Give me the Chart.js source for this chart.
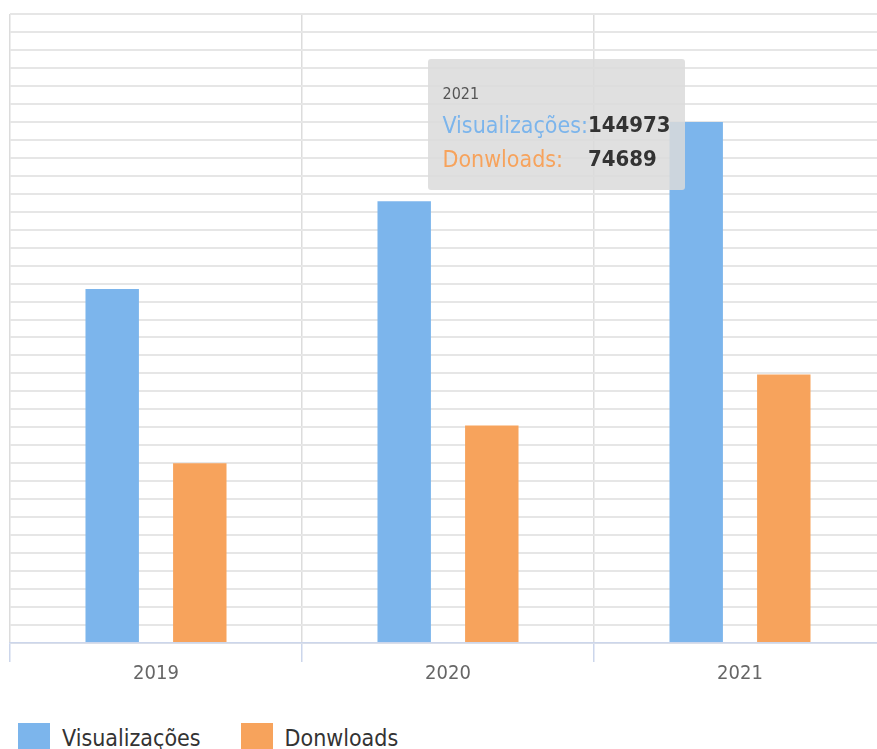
<!DOCTYPE html>
<html>
<head>
<meta charset="utf-8">
<script src="https://cdn.jsdelivr.net/npm/chart.js@4/dist/chart.umd.min.js"></script>
<style>
	html, body { margin: 0; padding: 0; background: #fff; overflow: hidden; }
	body { width: 877px; height: 749px; position: relative; font-family: 'Liberation Sans Narrow', 'DejaVu Sans Condensed', Roboto, sans-serif; }
	#wrap { position: absolute; left: 0; top: 0; width: 896px; height: 700px; }
	#tip {
		position: absolute; opacity: 0; pointer-events: none;
		background: rgba(218, 218, 218, 0.85); border-radius: 3px;
		padding: 25px 14px 14px 14px; white-space: nowrap;
	}
	#tip .t-title { font-size: 16px; line-height: 20px; color: #555; margin-bottom: 4px; }
	#tip table { border-collapse: collapse; }
	#tip td { padding: 0; font-size: 23px; line-height: 34px; }
	#tip td.v { color: #333; font-weight: bold; font-size: 22px; }
	#legend { position: absolute; left: 18px; top: 723px; display: flex; }
	#legend .item { display: flex; align-items: flex-start; margin-right: 40px; }
	#legend .box { width: 32px; height: 30px; margin-right: 12px; }
	#legend .txt { font-size: 23px; line-height: 30px; color: #333; }
</style>
</head>
<body>
<div id="wrap"><canvas id="grafico" width="896" height="700"></canvas></div>
<div id="tip"></div>
<div id="legend"></div>
<script>
	let anni = ['2019', '2020', '2021'],
		visualizacoes = [98500, 122900, 144973],
		downloads = [50000, 60500, 74689];

	let coloreVis = '#7cb5ec',
		coloreDown = '#f7a35c';

	Chart.defaults.font.family = "'Liberation Sans Narrow', 'DejaVu Sans Condensed', Roboto, sans-serif";

	function tooltipEsterno(context) {
		let tooltip = context.tooltip;
		let el = document.getElementById('tip');
		if (tooltip.opacity === 0 || !tooltip.dataPoints) {
			el.style.opacity = 0;
			return;
		}
		let html = '<div class="t-title">' + tooltip.title.join('') + '</div><table>';
		tooltip.dataPoints.forEach(function(dp) {
			html += '<tr><td style="color:' + dp.dataset.backgroundColor + '">' + dp.dataset.label + ':</td>' +
				'<td class="v">' + dp.raw + '</td></tr>';
		});
		el.innerHTML = html + '</table>';
		let bar = tooltip.dataPoints[0].element;
		el.style.left = (bar.x - bar.width / 2 - el.offsetWidth + 15) + 'px';
		el.style.top = (bar.y - 63) + 'px';
		el.style.opacity = 1;
	}

	let legendaHtml = {
		id : 'legendaHtml',
		afterUpdate : function(chart) {
			let box = document.getElementById('legend');
			box.innerHTML = '';
			chart.options.plugins.legend.labels.generateLabels(chart).forEach(function(item) {
				let div = document.createElement('div');
				div.className = 'item';
				let quad = document.createElement('span');
				quad.className = 'box';
				quad.style.background = item.fillStyle;
				let txt = document.createElement('span');
				txt.className = 'txt';
				txt.textContent = item.text;
				div.appendChild(quad);
				div.appendChild(txt);
				box.appendChild(div);
			});
		}
	};

	let ctx = document.getElementById('grafico').getContext('2d');

	let grafico = new Chart(ctx, {
		type : 'bar',
		data : {
			labels   : anni,
			datasets : [
				{
					label              : 'Visualizações',
					data               : visualizacoes,
					backgroundColor    : coloreVis,
					categoryPercentage : 0.6,
					barPercentage      : 0.61
				},
				{
					label              : 'Donwloads',
					data               : downloads,
					backgroundColor    : coloreDown,
					categoryPercentage : 0.6,
					barPercentage      : 0.61
				}
			]
		},
		options : {
			responsive : false,
			animation  : false,
			layout     : { padding : { left : 10, right : 10, top : 14, bottom : 14 } },
			interaction : { mode : 'index', intersect : false },
			plugins : {
				legend  : { display : false },
				tooltip : { enabled : false, external : tooltipEsterno }
			},
			scales : {
				x : {
					grid   : { color : '#dcdcdc', tickColor : '#ccd6eb', tickLength : 19, lineWidth : 1.5 },
					border : { color : '#ccd6eb', width : 1.5 },
					ticks  : { color : '#666', padding : 0, font : { size : 20 } }
				},
				y : {
					min    : 0,
					max    : 175000,
					grid   : { color : '#e6e6e6', lineWidth : 2, drawTicks : false },
					border : { display : false },
					ticks  : { display : false, stepSize : 5000 }
				}
			}
		},
		plugins : [legendaHtml]
	});

	grafico.tooltip.setActiveElements([
		{ datasetIndex : 0, index : 2 },
		{ datasetIndex : 1, index : 2 }
	], { x : 0, y : 0 });
	grafico.update();
</script>
</body>
</html>
